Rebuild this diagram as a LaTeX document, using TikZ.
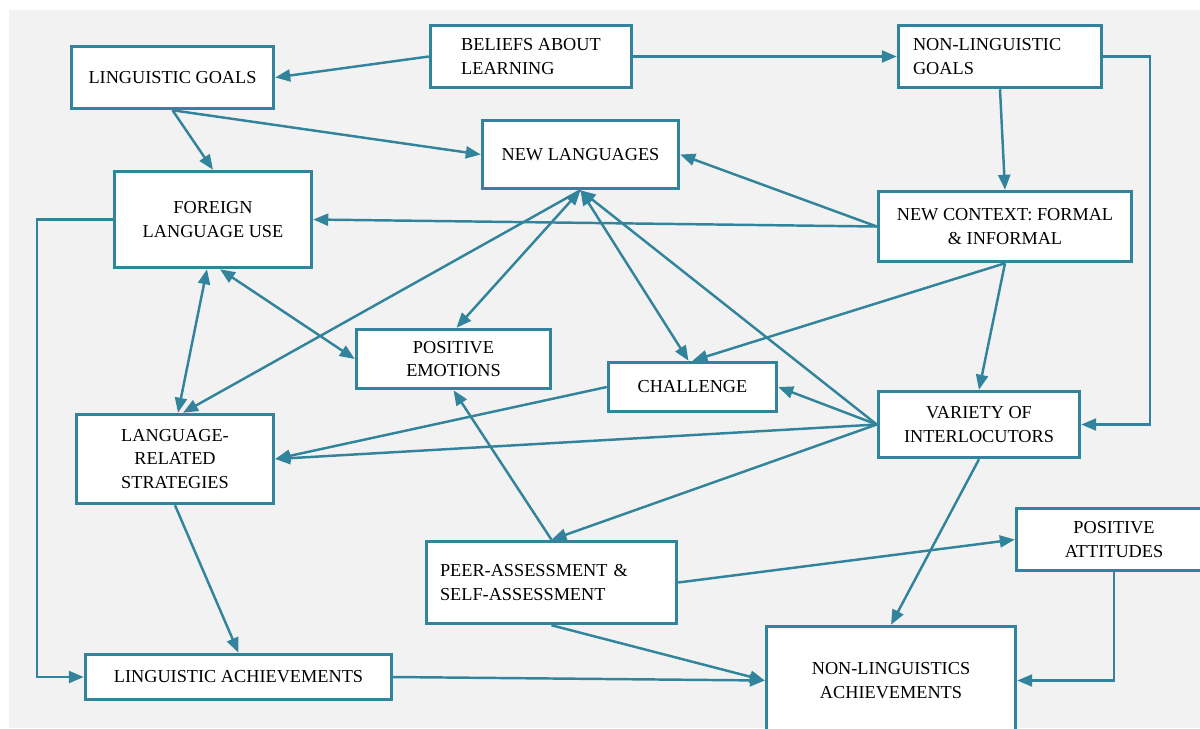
\documentclass[tikz,border=0pt]{standalone}
\usepackage{fontspec}
\setmainfont{Liberation Serif}
\usepackage{xcolor}
\usetikzlibrary{arrows.meta}

\definecolor{boxblue}{HTML}{31849B}
\definecolor{bggray}{HTML}{F2F2F2}

\begin{document}
\begin{tikzpicture}[x=0.02cm, y=-0.02cm,
  box/.style={draw=boxblue, line width=1.7pt, fill=white, inner sep=0pt,
    align=center, font=\fontsize{10.4}{13.5}\selectfont},
  link/.style={draw=boxblue, line width=1.4pt,
    -{Triangle[length=0.3cm, width=0.24cm]}},
  twoway/.style={link,
    {Triangle[length=0.3cm, width=0.24cm]}-{Triangle[length=0.3cm, width=0.24cm]}}]
  % Page and grey background
  \useasboundingbox (0,0) rectangle (1200,728);
  \fill[bggray] (9,10) rectangle (1200,728);

  % Boxes
  \node[box, minimum width=4.05cm, minimum height=1.25cm] (lgoals) at (172.5,77.5) {LINGUISTIC GOALS};
  \node[box, minimum width=4.03cm, minimum height=1.25cm, align=left] (beliefs) at (531,56.5) {BELIEFS ABOUT\\LEARNING};
  \node[box, minimum width=4.07cm, minimum height=1.25cm, text width=3.48cm, align=left] (nlgoals) at (1000,56.5) {NON-LINGUISTIC\\GOALS};
  \node[box, minimum width=3.93cm, minimum height=1.37cm] (newlang) at (580.5,154.5) {NEW LANGUAGES};
  \node[box, minimum width=3.95cm, minimum height=1.93cm] (fuse) at (213,219.5) {FOREIGN\\LANGUAGE USE};
  \node[box, minimum width=5.07cm, minimum height=1.41cm] (newctx) at (1005,226.5) {NEW CONTEXT: FORMAL\\\& INFORMAL};
  \node[box, minimum width=3.89cm, minimum height=1.19cm] (posemo) at (453.5,359) {POSITIVE\\EMOTIONS};
  \node[box, minimum width=3.37cm, minimum height=0.99cm] (chall) at (692.5,387) {CHALLENGE};
  \node[box, minimum width=4.03cm, minimum height=1.33cm] (variety) at (979,424.5) {VARIETY OF\\INTERLOCUTORS};
  \node[box, minimum width=3.95cm, minimum height=1.79cm] (strat) at (175,459) {LANGUAGE-\\RELATED\\STRATEGIES};
  \node[box, minimum width=5.01cm, minimum height=1.65cm, text width=4.46cm, align=left] (peer) at (551.5,582.5) {PEER-ASSESSMENT \&\\SELF-ASSESSMENT};
  \node[box, minimum width=3.91cm, minimum height=1.25cm] (posatt) at (1114,539.5) {POSITIVE\\ATTITUDES};
  \node[box, minimum width=6.13cm, minimum height=0.91cm] (lach) at (238.5,677) {LINGUISTIC ACHIEVEMENTS};
  \node[box, minimum width=4.99cm, minimum height=2.17cm] (nlach) at (891,680.5) {NON-LINGUISTICS\\ACHIEVEMENTS};

  % Top row
  \draw[link] (beliefs.west) -- (lgoals.east);
  \draw[link] (beliefs.east) -- (nlgoals.west);
  \draw[link] (nlgoals.east) -- ++(47,0) |- (variety.east);
  \draw[link] (nlgoals.south) -- (newctx.north);
  \draw[link] (lgoals.south) -- (fuse.north);
  \draw[link] (lgoals.south) -- (newlang.west);

  % From the new context
  \draw[link] (newctx.west) -- (fuse.east);
  \draw[link] (newctx.west) -- (newlang.east);
  \draw[link] (newctx.south) -- (chall.north);
  \draw[link] (newctx.south) -- (variety.north);

  % Left side
  \draw[link] (fuse.west) -- ++(-76,0) |- (lach.west);
  \draw[twoway] ([xshift=-0.12cm]fuse.south) -- ([xshift=0.06cm]strat.north);
  \draw[twoway] ([xshift=0.14cm]fuse.south) -- (posemo.west);
  \draw[link] (newlang.south) -- ([xshift=0.16cm]strat.north);
  \draw[twoway] (newlang.south) -- ([xshift=0.06cm]posemo.north);
  \draw[twoway] (newlang.south) -- ([xshift=-0.08cm]chall.north);
  \draw[link] (strat.south) -- (lach.north);

  % From the variety of interlocutors
  \draw[link] (variety.west) -- (newlang.south);
  \draw[link] (variety.west) -- (chall.east);
  \draw[link] (variety.west) -- (strat.east);
  \draw[link] (chall.west) -- (strat.east);
  \draw[link] (variety.west) -- (peer.north);
  \draw[link] (variety.south) -- (nlach.north);

  % Bottom part
  \draw[link] (peer.north) -- (posemo.south);
  \draw[link] (peer.east) -- (posatt.west);
  \draw[link] (peer.south) -- (nlach.west);
  \draw[link] (lach.east) -- (nlach.west);
  \draw[link] (posatt.south) |- (nlach.east);
\end{tikzpicture}
\end{document}
